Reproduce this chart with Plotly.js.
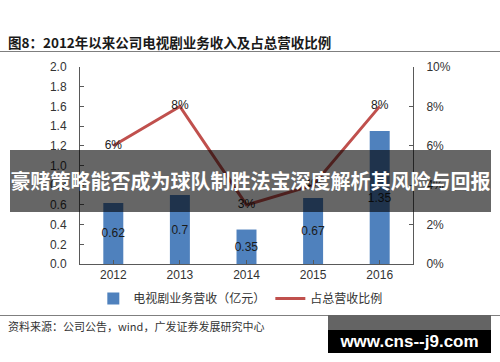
<!DOCTYPE html>
<html>
<head>
<meta charset="utf-8">
<script src="https://cdn.plot.ly/plotly-3.0.1.min.js"></script>
<style>
  html, body { margin: 0; padding: 0; background: #fff; }
  #wrap { position: relative; width: 500px; height: 362px; overflow: hidden; }
  #chart { position: absolute; left: 0; top: 0; width: 500px; height: 362px; }
  .ov { position: absolute; font-family: "Noto Sans CJK SC", sans-serif; }
</style>
</head>
<body>
<div id="wrap">
  <div id="chart"></div>
  <div class="ov" id="title" style="left:8px; top:32px; font-size:13.5px; font-weight:bold; color:#1a1a1a; white-space:nowrap;">图8：2012年以来公司电视剧业务收入及占总营收比例</div>
  <div class="ov" style="left:0; top:51px; width:500px; height:1px; background:#7f7f7f;"></div>
  <div class="ov" style="left:0; top:315px; width:500px; height:1px; background:#7f7f7f;"></div>
  <div class="ov" id="source" style="left:8px; top:318px; font-size:11px; color:#333; white-space:nowrap;">资料来源：公司公告，wind，广发证券发展研究中心</div>
  <div class="ov" id="banner" style="left:10px; top:150px; width:481px; height:62px; background:rgba(0,0,0,0.6); color:#fff; font-size:20px; font-weight:bold; line-height:62px; text-align:center; white-space:nowrap;">豪赌策略能否成为球队制胜法宝深度解析其风险与回报</div>
  <div class="ov" style="left:328px; top:315px; width:163px; height:15px; background:#646464;"></div>
  <div class="ov" id="wm" style="left:328px; top:330px; width:163px; height:23px; background:#000; color:#fff; font-family:'Liberation Sans', Arial, sans-serif; font-size:17px; font-weight:bold; line-height:23px; text-align:center; white-space:nowrap;">www.cns--j9.com</div>
</div>
<script>
const years = ['2012', '2013', '2014', '2015', '2016'];
const revenue = [0.62, 0.70, 0.35, 0.67, 1.35];
const revenueLabels = ['0.62', '0.7', '0.35', '0.67', '1.35'];
const share = [6, 8, 3, 4, 8];
const shareLabels = ['6%', '8%', '3%', '4%', '8%'];
const leftTicks = [0, 0.2, 0.4, 0.6, 0.8, 1.0, 1.2, 1.4, 1.6, 1.8, 2.0];
const leftTickText = ['0.0', '0.2', '0.4', '0.6', '0.8', '1.0', '1.2', '1.4', '1.6', '1.8', '2.0'];
const rightTicks = [0, 2, 4, 6, 8, 10];
const rightTickText = ['0%', '2%', '4%', '6%', '8%', '10%'];

const numFont = 'Liberation Sans, Arial, sans-serif';

const traces = [
  {
    type: 'bar',
    name: '电视剧业务营收（亿元）',
    x: years,
    y: revenue,
    text: revenueLabels,
    textposition: 'inside',
    insidetextanchor: 'middle',
    textangle: 0,
    constraintext: 'none',
    textfont: { family: numFont, size: 12, color: '#1a1a1a' },
    marker: { color: '#4F81BD' },
    width: 0.3,
    cliponaxis: false
  },
  {
    type: 'scatter',
    mode: 'lines+text',
    name: '占总营收比例',
    x: years,
    y: share,
    yaxis: 'y2',
    text: shareLabels,
    textposition: 'middle center',
    textfont: { family: numFont, size: 12, color: '#1a1a1a' },
    line: { color: '#C0504D', width: 3 },
    cliponaxis: false
  }
];

const layout = {
  width: 500,
  height: 362,
  margin: { l: 80, r: 87, t: 67, b: 98 },
  paper_bgcolor: '#fff',
  plot_bgcolor: '#fff',
  showlegend: true,
  legend: {
    orientation: 'h',
    x: 0.04, xanchor: 'left',
    y: -0.175, yanchor: 'middle',
    font: { family: 'Noto Sans CJK SC, sans-serif', size: 12, color: '#333' },
    itemwidth: 30,
    traceorder: 'normal'
  },
  xaxis: {
    type: 'category',
    showline: true, linecolor: '#595959', linewidth: 1,
    ticks: 'inside', ticklen: 4, tickcolor: '#595959',
    tickfont: { family: numFont, size: 12, color: '#333' },
    showgrid: false, zeroline: false
  },
  yaxis: {
    range: [0, 2.0],
    tickmode: 'array',
    tickvals: leftTicks,
    ticktext: leftTickText,
    showline: true, linecolor: '#595959', linewidth: 1,
    ticks: 'inside', ticklen: 4, tickcolor: '#595959',
    tickfont: { family: numFont, size: 12, color: '#333' },
    ticklabelstandoff: 10,
    showgrid: false, zeroline: false
  },
  yaxis2: {
    overlaying: 'y',
    side: 'right',
    range: [0, 10],
    tickmode: 'array',
    tickvals: rightTicks,
    ticktext: rightTickText,
    showline: true, linecolor: '#595959', linewidth: 1,
    ticks: 'inside', ticklen: 4, tickcolor: '#595959',
    tickfont: { family: numFont, size: 12, color: '#333' },
    ticklabelstandoff: 10,
    showgrid: false, zeroline: false
  }
};

Plotly.newPlot('chart', traces, layout, { displayModeBar: false, staticPlot: true });
</script>
</body>
</html>
